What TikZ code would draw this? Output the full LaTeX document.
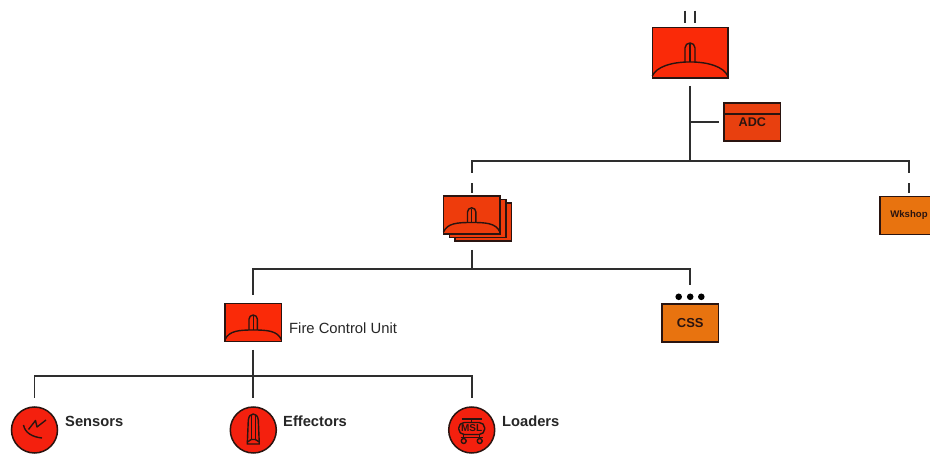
\documentclass[tikz,border=0pt]{standalone}
\usepackage{fontspec}
\setmainfont{Liberation Sans}
\definecolor{hqred}{HTML}{FA2A08}
\definecolor{stackred}{HTML}{EE3C0C}
\definecolor{adcred}{HTML}{E8400F}
\definecolor{unitorange}{HTML}{E8730F}
\definecolor{circred}{HTML}{F4200E}
\definecolor{ink}{HTML}{2A1410}
\definecolor{wire}{HTML}{2E2E2E}
\tikzset{
  unitbox/.style={draw=ink,line width=1.5pt,minimum width=56.5pt,minimum height=38pt,inner sep=0pt,outer sep=0pt},
  redbox/.style={unitbox,fill=hqred},
  orangebox/.style={unitbox,fill=unitorange,text=ink,font=\bfseries},
  circunit/.style={circle,draw=ink,line width=1.5pt,fill=circred,minimum size=46pt,inner sep=0pt,outer sep=0pt},
  wirelink/.style={draw=wire,line width=1.7pt},
  sym/.style={draw=ink,line width=1.4pt,line join=round},
  lbl/.style={inner sep=0pt,anchor=west,text=black!85},
  dotmark/.style={circle,fill=black,minimum size=6.6pt,inner sep=0pt}
}
% dome + missile symbol: #1 node, #2 half width, #3 dome height above the box foot,
% #4 missile radius, #5 straight part of the missile
\newcommand{\domesym}[5]{%
  \draw[sym] ([xshift=-#2pt,yshift=2pt]#1.south) .. controls +(4pt,9pt) and +(-#2*0.5pt,0pt) .. ([yshift=#3pt]#1.south)
     .. controls +(#2*0.5pt,0pt) and +(-4pt,9pt) .. ([xshift=#2pt,yshift=2pt]#1.south);
  \draw[sym] ([xshift=-#4pt,yshift=#3pt]#1.south) -- ++(0pt,#5pt) arc[start angle=180,end angle=0,radius=#4pt] -- ++(0pt,-#5pt);
  \draw[sym] ([yshift=#3pt]#1.south) -- ++(0pt,#5pt+#4pt-0.8pt);
}
\begin{document}
\begin{tikzpicture}[x=1pt,y=-1pt]
\path[use as bounding box,clip] (0,0) rectangle (930,454);
\fill[white] (0,0) rectangle (930,454);

% boxes
\node[redbox,minimum width=75.5pt,minimum height=50.5pt] (hq) at (690,52.7) {};
\node[unitbox,fill=adcred,text=ink,font=\bfseries\fontsize{12.6}{14}\selectfont] (adc) at (752.3,122) {ADC};
\node[unitbox,fill=stackred,minimum height=38pt] (st3) at (483,222) {};
\node[unitbox,fill=stackred] (st2) at (477.5,218.5) {};
\node[unitbox,fill=stackred] (bn) at (471.7,215) {};
\node[orangebox,minimum width=58pt,font=\bfseries\fontsize{9.6}{11}\selectfont] (wk) at (909,215.4) {Wkshop};
\node[redbox] (fcu) at (253.2,322.7) {};
\node[orangebox,font=\bfseries\fontsize{13}{15}\selectfont] (css) at (690.3,322.8) {CSS};
\node[circunit] (sen) at (34.5,430) {};
\node[circunit] (eff) at (253.3,430) {};
\node[circunit] (loa) at (471.7,430) {};

% labels
\node[lbl,font=\fontsize{14.8}{17}\selectfont] (fcutxt) at (289,328.5) {Fire Control Unit};
\node[lbl,font=\bfseries\fontsize{14.7}{17}\selectfont] (sentxt) at (65,421) {Sensors};
\node[lbl,font=\bfseries\fontsize{14.7}{17}\selectfont] (efftxt) at (283,421) {Effectors};
\node[lbl,font=\bfseries\fontsize{14.7}{17}\selectfont] (loatxt) at (502,421) {Loaders};

% symbols
\domesym{hq}{37.7}{16}{5}{14}
\domesym{bn}{28.2}{11.5}{4.2}{10.5}
\domesym{fcu}{28.2}{11.7}{4.2}{10.8}
\draw[sym] (adc.west |- 0,114) -- (adc.east |- 0,114);

% echelon marks
\coordinate (ma) at (685,10.7); \coordinate (mb) at (685,22.7);
\coordinate (mc) at (695,10.7); \coordinate (md) at (695,22.7);
\draw[wirelink] (ma) -- (mb);
\draw[wirelink] (mc) -- (md);
\node[dotmark] (d1) at (678.7,296.8) {};
\node[dotmark] (d2) at (690.2,296.8) {};
\node[dotmark] (d3) at (701.3,296.8) {};

% connectors
\coordinate (hqfoot) at (690,86);
\coordinate (hub) at (690,161);
\coordinate (adcstub) at (690,122);
\coordinate (adcend) at (719,122);
\coordinate (bl) at (472,161);
\coordinate (br) at (909,161);
\coordinate (bl1) at (472,173);
\coordinate (bl2) at (472,183.5);
\coordinate (bl3) at (472,193);
\coordinate (br1) at (909,173);
\coordinate (br2) at (909,183.5);
\coordinate (br3) at (909,193);
\coordinate (bnfoot) at (472,250);
\coordinate (bnhub) at (472,269);
\coordinate (cl) at (253,269);
\coordinate (cr) at (690,269);
\coordinate (cltop) at (253,295);
\coordinate (crtop) at (690,285);
\coordinate (fcufoot) at (253,350);
\coordinate (fcuhub) at (253,376);
\coordinate (el) at (34.5,376);
\coordinate (er) at (472,376);
\coordinate (e1) at (34.5,398);
\coordinate (e2) at (253,398);
\coordinate (e3) at (472,398);

\draw[wirelink] (hqfoot) -- (hub);
\draw[wirelink] (adcstub) -- (adcend);
\draw[wirelink] (bl1) -- (bl) -- (br) -- (br1);
\draw[wirelink] (bl2) -- (bl3);
\draw[wirelink] (br2) -- (br3);
\draw[wirelink] (bnfoot) -- (bnhub);
\draw[wirelink] (cltop) -- (cl) -- (cr) -- (crtop);
\draw[wirelink] (fcufoot) -- (fcuhub);
\draw[wirelink] (e1) -- (el) -- (er) -- (e3);
\draw[wirelink] (fcuhub) -- (e2);

% sensor symbol
\begin{scope}[shift={(sen.center)}]
  \draw[sym] (-11,-5) .. controls (-9.5,3) and (-2,7) .. (7.5,8);
  \draw[sym] (-6,-0.5) -- (1,-9.5) -- (2.5,-3) -- (11.5,-10);
\end{scope}
% effector symbol
\begin{scope}[shift={(eff.center)}]
  \draw[sym] (-6,14) -- (-5,-10) .. controls (-4.5,-14) and (-2.5,-16) .. (0,-16) .. controls (2.5,-16) and (4.5,-14) .. (5,-10) -- (6,14) -- cycle;
  \draw[sym] (-2,-15) -- (-2,9.5);
  \draw[sym] (2,-15) -- (2,9.5);
  \draw[sym] (-6,12) -- (-2,9.5) -- (2,9.5) -- (6,12);
\end{scope}
% loader symbol
\begin{scope}[shift={(loa.center)}]
  \draw[sym] (-10,-11) -- (10,-11);
  \draw[sym] (0,-11) -- (0,-7.5);
  \draw[sym,rounded corners=5.5pt] (-13,-7.5) rectangle (13,4.5);
  \node[font=\bfseries\fontsize{10}{11}\selectfont,text=ink,inner sep=0pt] (msl) at (0,-1.5) {MSL};
  \draw[sym] (-11,7.5) -- (11,7.5);
  \draw[sym] (-8,4.5) -- (-8,8.5);
  \draw[sym] (8,4.5) -- (8,8.5);
  \draw[sym] (-8,11) circle[radius=2.5pt];
  \draw[sym] (8,11) circle[radius=2.5pt];
\end{scope}
\end{tikzpicture}
\end{document}
